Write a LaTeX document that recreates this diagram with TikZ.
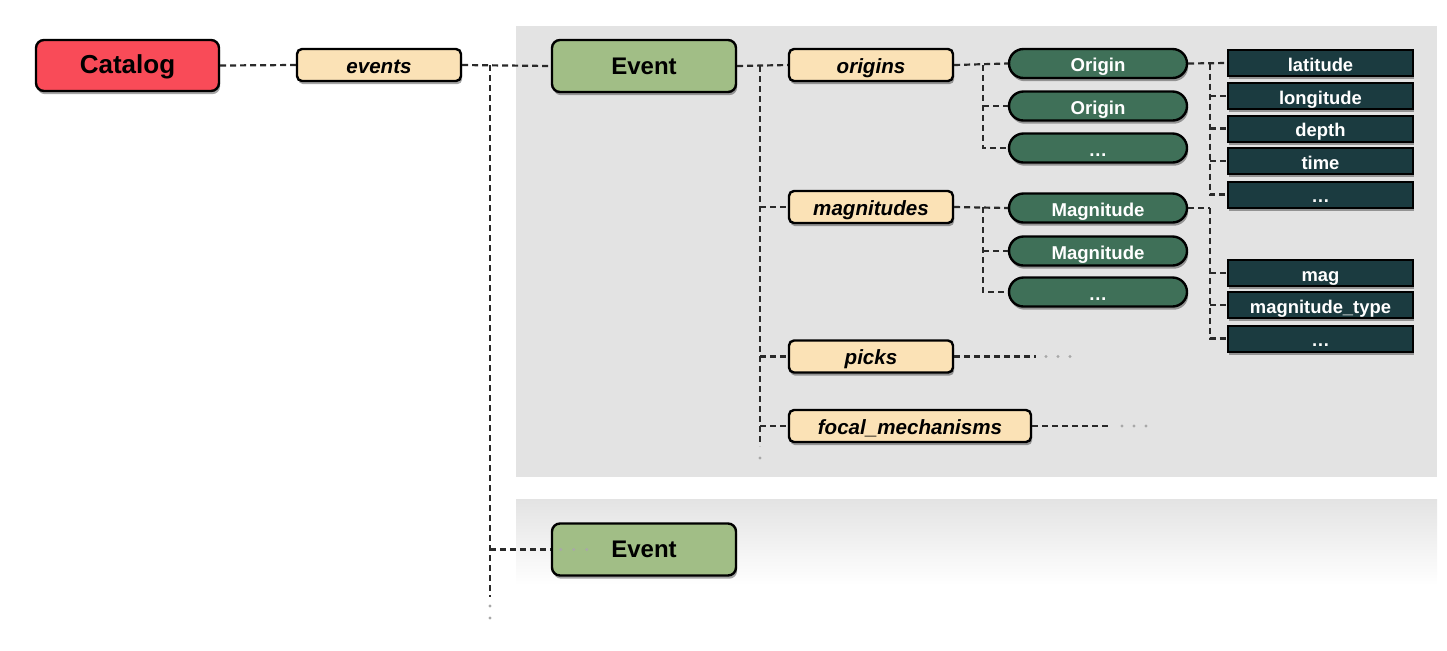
\documentclass[tikz,border=0pt]{standalone}
\usepackage{fontspec}
\setmainfont{Liberation Sans}
\usetikzlibrary{shadows,shapes.misc}

\definecolor{catred}{HTML}{F94B58}
\definecolor{listpeach}{HTML}{FBE2B6}
\definecolor{evgreen}{HTML}{A1BE86}
\definecolor{objgreen}{HTML}{3F7058}
\definecolor{attrteal}{HTML}{1B3B40}
\definecolor{panelgray}{HTML}{E3E3E3}
\definecolor{linegray}{HTML}{2A2A2A}
\definecolor{dotgray}{HTML}{A8A8A8}

\tikzset{
  boxshadow/.style={drop shadow={shadow xshift=0.6pt, shadow yshift=-1.6pt, opacity=0.35, fill=black}},
  basebox/.style={draw=black, line width=1.2pt, boxshadow, inner sep=0pt,
    text height=0.84em, text depth=0pt},
  catbox/.style={basebox, fill=catred, rounded corners=4pt,
    minimum width=91.5pt, minimum height=25.5pt, font=\bfseries\fontsize{13}{15}\selectfont},
  evbox/.style={basebox, fill=evgreen, rounded corners=4pt,
    minimum width=92pt, minimum height=26pt, font=\bfseries\fontsize{12}{14}\selectfont},
  listbox/.style={basebox, fill=listpeach, rounded corners=2.5pt,
    minimum width=82pt, minimum height=16pt, font=\bfseries\itshape\fontsize{10.3}{12}\selectfont},
  objbox/.style={basebox, fill=objgreen, rounded rectangle, text=white,
    minimum width=89pt, minimum height=14.5pt, font=\bfseries\fontsize{9.3}{11}\selectfont},
  attrbox/.style={basebox, fill=attrteal, text=white, line width=1pt,
    minimum width=92.5pt, minimum height=13pt, font=\bfseries\fontsize{9.2}{11}\selectfont},
  conn/.style={draw=linegray, line width=1.1pt, dash pattern=on 3pt off 2pt},
  moredot/.style={fill=dotgray},
}

\begin{document}
\begin{tikzpicture}[x=0.5pt, y=-0.5pt]
  \useasboundingbox (0,0) rectangle (1447,650);

  % background panels
  \fill[panelgray] (516,26) rectangle (1437,477);
  \shade[top color=panelgray, bottom color=white] (516,499) rectangle (1437,585);

  % nodes
  \node[catbox] (catalog) at (127.5,65.5) {Catalog};
  \node[listbox] (events) at (379,65) {events};
  \node[evbox] (ev1) at (644,66) {Event};
  \node[evbox] (ev2) at (644,549.5) {Event};

  \node[listbox] (origins) at (871,65) {origins};
  \node[listbox] (mags) at (871,207) {magnitudes};
  \node[listbox] (picks) at (871,356.5) {picks};
  \node[listbox, minimum width=121pt] (focal) at (910,426) {focal\_mechanisms};

  \node[objbox] (or1) at (1098,63.5) {Origin};
  \node[objbox] (or2) at (1098,106) {Origin};
  \node[objbox] (or3) at (1098,148) {\dots};
  \node[objbox] (mg1) at (1098,208) {Magnitude};
  \node[objbox] (mg2) at (1098,251) {Magnitude};
  \node[objbox] (mg3) at (1098,292) {\dots};

  \node[attrbox] (lat) at (1320.5,63) {latitude};
  \node[attrbox] (lon) at (1320.5,96) {longitude};
  \node[attrbox] (dep) at (1320.5,128.5) {depth};
  \node[attrbox] (tim) at (1320.5,161) {time};
  \node[attrbox] (oetc) at (1320.5,194.5) {\dots};
  \node[attrbox] (mag) at (1320.5,273) {mag};
  \node[attrbox] (mtype) at (1320.5,305) {magnitude\_type};
  \node[attrbox] (metc) at (1320.5,338.5) {\dots};

  % bus positions
  \coordinate (busA) at (490,0);
  \coordinate (busB) at (760,0);
  \coordinate (busC) at (983,0);
  \coordinate (busD) at (1210,0);

  % catalog -> events -> Event
  \draw[conn] (catalog.east) -- (events.west);
  \draw[conn] (events.east) -- (ev1.west);
  \draw[conn] (events.east -| busA) -- (490,597);
  \draw[conn] (ev2.west -| busA) -- (ev2.west);
  \coordinate (ev2tail) at (ev2.west);
  \foreach \d in {10,23,36} \fill[moredot] ([xshift=\d*0.5pt]ev2tail) circle (0.8pt);
  \foreach \y in {606,618} \fill[moredot] (490,\y) circle (0.8pt);

  % Event -> attribute lists
  \draw[conn] (ev1.east) -- (origins.west);
  \draw[conn] (ev1.east -| busB) -- (760,446);
  \draw[conn] (mags.west -| busB) -- (mags.west);
  \draw[conn] (picks.west -| busB) -- (picks.west);
  \draw[conn] (focal.west -| busB) -- (focal.west);
  \fill[moredot] (760,458) circle (0.8pt);

  % picks / focal mechanisms continue
  \coordinate (pickend) at (1036,356.5);
  \coordinate (focend) at (1112,426);
  \draw[conn] (picks.east) -- (pickend);
  \draw[conn] (focal.east) -- (focend);
  \foreach \d in {10,22,34} {
    \fill[moredot] ([xshift=\d*0.5pt]pickend) circle (0.8pt);
    \fill[moredot] ([xshift=\d*0.5pt]focend) circle (0.8pt);
  }

  % origins -> Origin objects
  \draw[conn] (origins.east) -- (or1.west);
  \draw[conn] (origins.east -| busC) |- (or3.west);
  \draw[conn] (or2.west -| busC) -- (or2.west);

  % magnitudes -> Magnitude objects
  \draw[conn] (mags.east) -- (mg1.west);
  \draw[conn] (mags.east -| busC) |- (mg3.west);
  \draw[conn] (mg2.west -| busC) -- (mg2.west);

  % Origin -> its attributes
  \draw[conn] (or1.east) -- (lat.west);
  \draw[conn] (or1.east -| busD) |- (oetc.west);
  \draw[conn] (lon.west -| busD) -- (lon.west);
  \draw[conn] (dep.west -| busD) -- (dep.west);
  \draw[conn] (tim.west -| busD) -- (tim.west);

  % Magnitude -> its attributes
  \draw[conn] (mg1.east) -- (mg1.east -| busD);
  \draw[conn] (mg1.east -| busD) |- (metc.west);
  \draw[conn] (mag.west -| busD) -- (mag.west);
  \draw[conn] (mtype.west -| busD) -- (mtype.west);
\end{tikzpicture}
\end{document}
